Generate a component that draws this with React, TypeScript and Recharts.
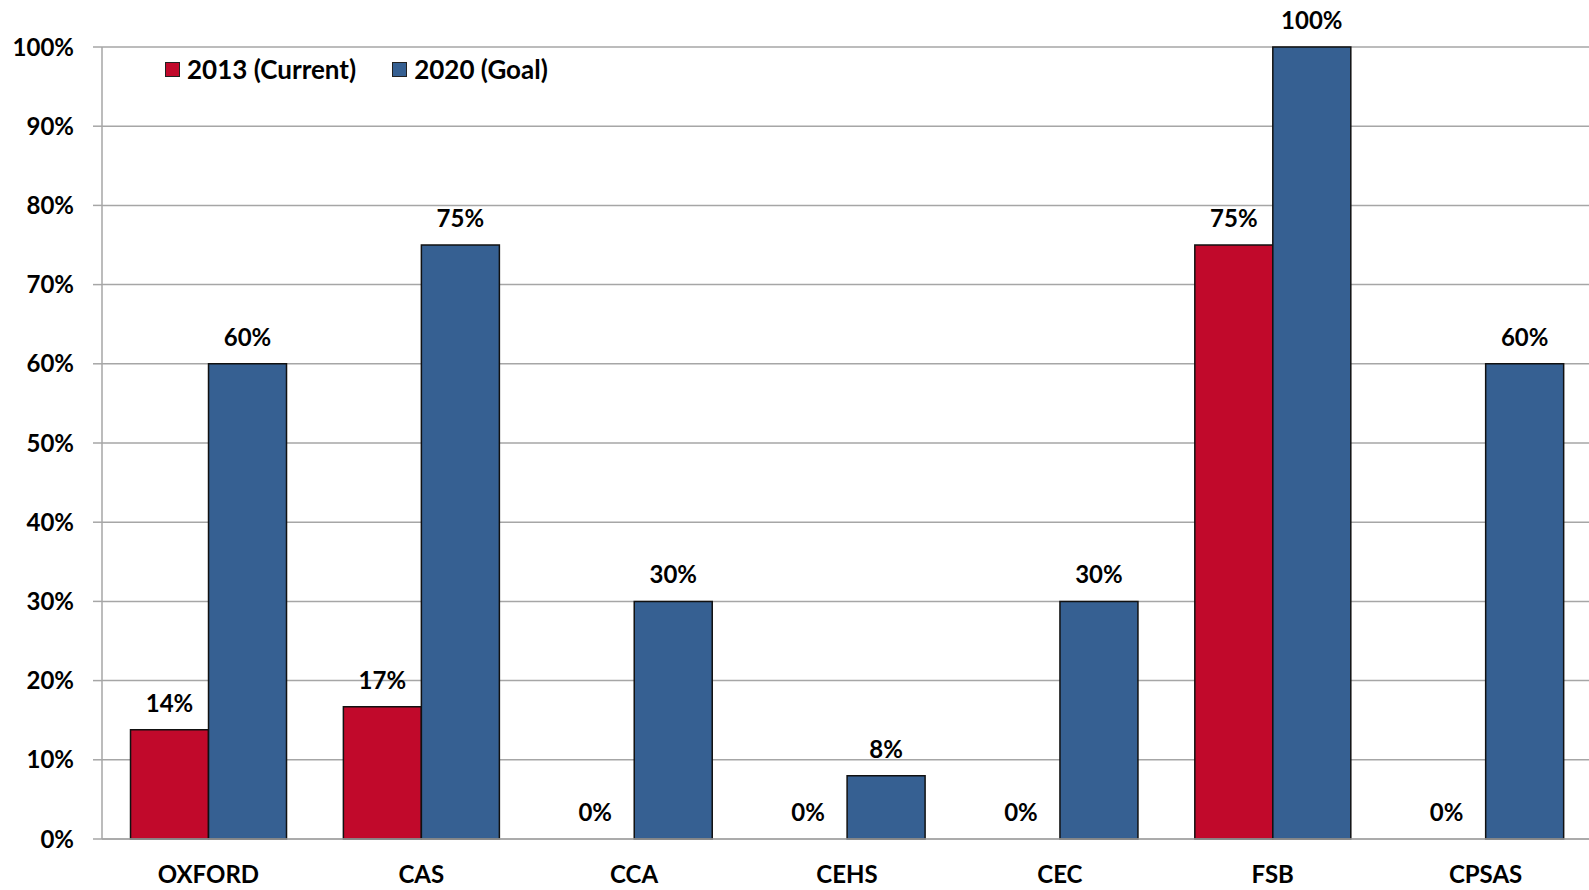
import { BarChart, Bar, XAxis, YAxis, CartesianGrid, LabelList, Rectangle } from 'recharts';

const categories = ['OXFORD', 'CAS', 'CCA', 'CEHS', 'CEC', 'FSB', 'CPSAS'];
const current2013 = [13.8, 16.7, 0, 0, 0, 75, 0];
const goal2020 = [60, 75, 30, 8, 30, 100, 60];
const yTicks = [0, 10, 20, 30, 40, 50, 60, 70, 80, 90, 100];
const edgeTicks = [0, 1, 2, 3, 4, 5, 6, 7];

const seriesNames = { current: '2013 (Current)', goal: '2020 (Goal)' };

const RED = '#C1092B';
const BLUE = '#366092';
const GRID = '#A6A6A6';
const FONT = 'Lato, "Open Sans", sans-serif';

const data = categories.map((name, i) => ({
  name,
  current: current2013[i],
  goal: goal2020[i],
}));

const pct = (v: any) => `${Math.round(Number(v))}%`;

const labelStyle = { fontSize: 24, fontWeight: 700, fill: '#000', fontFamily: FONT };

// zero-valued bars get a tiny min size so their "0%" label still shows, but no rect is drawn
const BarShape = (props: any) => (props.height > 0.5 ? <Rectangle {...props} /> : <g />);

function ChartLegend() {
  const items = [
    { label: seriesNames.current, color: RED },
    { label: seriesNames.goal, color: BLUE },
  ];
  return (
    <div
      style={{
        position: 'absolute',
        left: 165,
        top: 53,
        display: 'flex',
        alignItems: 'center',
        gap: 36,
        fontFamily: FONT,
        fontWeight: 700,
        fontSize: 26,
        lineHeight: '32px',
        color: '#000',
      }}
    >
      {items.map((it) => (
        <div key={it.label} style={{ display: 'flex', alignItems: 'center', gap: 7 }}>
          <span style={{ width: 13, height: 13, background: it.color, border: '1.5px solid #222', display: 'inline-block' }} />
          <span>{it.label}</span>
        </div>
      ))}
    </div>
  );
}

export default function App() {
  return (
    <div style={{ position: 'fixed', top: 0, left: 0, width: 1589, height: 890, overflow: 'hidden', background: '#fff' }}>
      <BarChart
        width={1600}
        height={890}
        data={data}
        margin={{ top: 47, right: 8, left: 0, bottom: 0 }}
        barCategoryGap="13.4%"
        barGap={0}
      >
        <CartesianGrid vertical={false} stroke={GRID} strokeWidth={1.5} />
        <XAxis
          xAxisId="edges"
          type="number"
          domain={[0, 7]}
          ticks={edgeTicks}
          allowDataOverflow
          tick={false}
          tickSize={10}
          tickLine={{ stroke: GRID, strokeWidth: 1.5 }}
          axisLine={false}
          height={0}
        />
        <XAxis
          dataKey="name"
          height={51}
          interval={0}
          tickLine={false}
          tickMargin={21}
          axisLine={{ stroke: GRID, strokeWidth: 1.5 }}
          tick={labelStyle}
        />
        <YAxis
          width={102}
          domain={[0, 100]}
          ticks={yTicks}
          interval={0}
          tickFormatter={pct}
          tickSize={9}
          tickMargin={19}
          tickLine={{ stroke: GRID, strokeWidth: 1.5 }}
          axisLine={{ stroke: GRID, strokeWidth: 1.5 }}
          tick={labelStyle}
        />
        <Bar
          dataKey="current"
          name={seriesNames.current}
          fill={RED}
          stroke="#111"
          strokeWidth={1.5}
          minPointSize={0.01}
          shape={BarShape}
          isAnimationActive={false}
        >
          <LabelList dataKey="current" position="top" offset={18} formatter={pct} style={labelStyle} />
        </Bar>
        <Bar dataKey="goal" name={seriesNames.goal} fill={BLUE} stroke="#111" strokeWidth={1.5} isAnimationActive={false}>
          <LabelList dataKey="goal" position="top" offset={18} formatter={pct} style={labelStyle} />
        </Bar>
      </BarChart>
      <ChartLegend />
    </div>
  );
}
